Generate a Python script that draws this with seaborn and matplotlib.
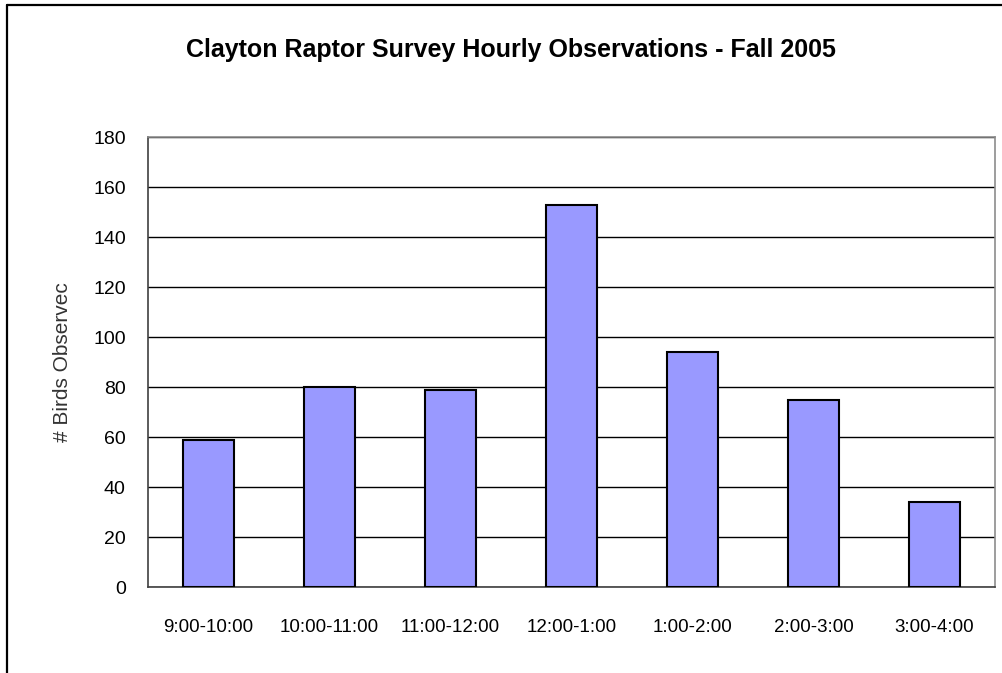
import matplotlib
matplotlib.use("Agg")
import matplotlib.pyplot as plt
from matplotlib.lines import Line2D
import seaborn as sns
import pandas as pd

# Hourly raptor counts, Fall 2005
hours = ["9:00-10:00", "10:00-11:00", "11:00-12:00", "12:00-1:00",
         "1:00-2:00", "2:00-3:00", "3:00-4:00"]
birds = [59, 80, 79, 153, 94, 75, 34]
y_ticks = [0, 20, 40, 60, 80, 100, 120, 140, 160, 180]

df = pd.DataFrame({"hour": hours, "birds": birds})

sns.set_style("white")
font = ["Liberation Sans", "DejaVu Sans"]
plt.rcParams["font.family"] = font
plt.rcParams["text.color"] = "black"
plt.rcParams["xtick.color"] = "black"
plt.rcParams["ytick.color"] = "black"
plt.rcParams["axes.labelcolor"] = "black"

fig = plt.figure(figsize=(10.03, 6.73), dpi=100)
ax = fig.add_axes([148 / 1003, 1 - 587 / 673, (995 - 148) / 1003, 450 / 673])

sns.barplot(data=df, x="hour", y="birds", ax=ax, color="#9999FF",
            saturation=1, width=0.42, edgecolor="black", linewidth=1.5,
            zorder=3)

ax.set_ylim(0, 180)
ax.set_xlim(-0.5, len(hours) - 0.5)
ax.set_yticks(y_ticks)
ax.set_yticklabels([str(v) for v in y_ticks], fontsize=14)

# gridlines behind bars
ax.yaxis.grid(True, color="black", linewidth=1)
ax.set_axisbelow(True)

# category labels centered, tick marks at category boundaries
ax.set_xticks(range(len(hours)))
ax.set_xticklabels(hours, fontsize=13.5)
ax.set_xticks([i - 0.5 for i in range(len(hours) + 1)], minor=True)
ax.tick_params(axis="x", which="major", length=0, pad=23)
ax.tick_params(axis="x", which="minor", length=7, width=1, color="#404040",
               direction="out")
ax.tick_params(axis="y", which="major", length=7, width=1, color="#404040",
               direction="out", pad=9)

ax.set_xlabel("")
ax.set_ylabel("# Birds Observec", fontsize=15, color="#333333", labelpad=15)

for side in ["left", "bottom"]:
    ax.spines[side].set_color("#404040")
    ax.spines[side].set_linewidth(1.2)
for side in ["top", "right"]:
    ax.spines[side].set_color("#8c8c8c")
    ax.spines[side].set_linewidth(1.2)
    ax.spines[side].set_visible(True)

fig.text(511 / 1003, 1 - 50 / 673,
         "Clayton Raptor Survey Hourly Observations - Fall 2005",
         ha="center", va="center", fontsize=18, fontweight="bold")

# chart frame along top and left edges
fig.add_artist(Line2D([7 / 1003, 1.0], [1 - 5 / 673, 1 - 5 / 673],
                      transform=fig.transFigure, color="black", linewidth=1.6))
fig.add_artist(Line2D([7 / 1003, 7 / 1003], [0.0, 1 - 5 / 673],
                      transform=fig.transFigure, color="black", linewidth=1.6))

fig.savefig("out.png", dpi=100, facecolor="white")
